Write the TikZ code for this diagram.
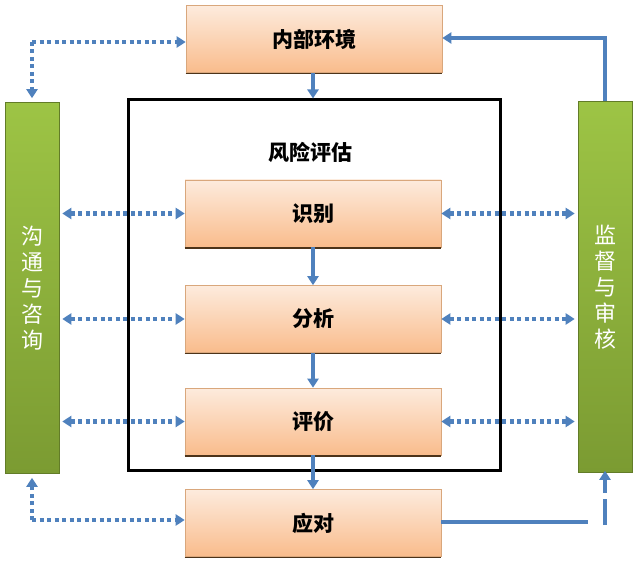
\documentclass[tikz,border=0pt]{standalone}
\usepackage{fontspec}
\newfontfamily\cjk{Noto Sans CJK SC}
\usetikzlibrary{arrows.meta}
\definecolor{arrowblue}{HTML}{4F81BD}
\definecolor{boxtop}{HTML}{FDEBDD}
\definecolor{boxbot}{HTML}{F9BC8C}
\definecolor{boxedge}{HTML}{D9A77C}
\definecolor{gtop}{HTML}{9DC445}
\definecolor{gbot}{HTML}{7B9B32}
\tikzset{
  stagebox/.style={draw=boxedge, line width=0.6pt, top color=boxtop, bottom color=boxbot,
    minimum width=256pt, minimum height=67pt, inner sep=0pt,
    font=\cjk\bfseries\fontsize{21}{21}\selectfont, text=black},
  sidebar/.style={draw=gbot!80!black, line width=0.6pt, top color=gtop, bottom color=gbot,
    minimum width=54pt, minimum height=371pt, inner sep=0pt,
    font=\cjk\fontsize{22}{26}\selectfont, text=white, align=center},
  flow/.style={draw=arrowblue, line width=4pt, -{Triangle[width=11pt,length=9pt]}},
  solidline/.style={draw=arrowblue, line width=4pt},
  dotline/.style={draw=arrowblue, line width=4.5pt, dash pattern=on 4pt off 3.5pt},
  dotarrow/.style={dotline, -{Triangle[width=11pt,length=9pt]}},
  dotboth/.style={dotline, {Triangle[width=11pt,length=9pt]}-{Triangle[width=11pt,length=9pt]}},
}
\begin{document}
\begin{tikzpicture}[x=1pt,y=-1pt]
\useasboundingbox (0,0) rectangle (640,561);
% frame
\node[draw=black, line width=3pt, minimum width=372pt, minimum height=370pt, inner sep=0pt] (frame) at (314,285) {};
\node[font=\cjk\bfseries\fontsize{21}{21}\selectfont] (title) at (310,152) {风险评估};
% boxes
\node[stagebox] (env) at (314,39) {内部环境};
\node[stagebox] (id) at (313,213.5) {识别};
\node[stagebox] (an) at (313,319) {分析};
\node[stagebox] (ev) at (313,421.5) {评价};
\node[stagebox] (re) at (313,523) {应对};
% shadows under boxes
\foreach \n in {env,id,an,ev,re}{
  \draw[line width=1.5pt, draw=black!60!brown] ([yshift=-0.8pt]\n.south west) -- ([yshift=-0.8pt]\n.south east);
}
% side bars
\node[sidebar] (comm) at (32,288) {沟\\通\\与\\咨\\询};
\node[sidebar] (mon) at (605,287) {监\\督\\与\\审\\核};
% vertical flow
\draw[flow] (env.south -| 313,0) -- (frame.north -| 313,0);
\draw[flow] (id) -- (an);
\draw[flow] (an) -- (ev);
\draw[flow] (ev) -- (re);
% left dotted connections
\coordinate (tl) at (32,42);
\coordinate (bl) at (32,520);
\draw[dotarrow] (tl) -- (env.west |- tl);
\draw[dotarrow] (tl) -- ([yshift=4pt]comm.north);
\draw[dotarrow] (bl) -- ([yshift=-4pt]comm.south);
\draw[dotarrow] (bl) -- (re.west |- bl);
\draw[dotboth] ([xshift=3pt]comm.east |- id.west) -- (id.west);
\draw[dotboth] ([xshift=3pt]comm.east |- an.west) -- (an.west);
\draw[dotboth] ([xshift=3pt]comm.east |- ev.west) -- (ev.west);
% right dotted connections
\draw[dotboth] (id.east) -- ([xshift=-3pt]mon.west |- id.east);
\draw[dotboth] (an.east) -- ([xshift=-3pt]mon.west |- an.east);
\draw[dotboth] (ev.east) -- ([xshift=-3pt]mon.west |- ev.east);
% monitor to environment
\coordinate (tr) at (605,38);
\draw[solidline] (mon.north) -- (tr);
\draw[flow] ([xshift=2pt]tr) -- (env.east |- tr);
% response to monitor
\coordinate (brh) at (588,522);
\coordinate (brv) at (605,525);
\draw[solidline] (re.east |- brh) -- (brh);
\draw[draw=arrowblue, line width=4pt, dash pattern=on 26pt off 6pt, -{Triangle[width=11pt,length=9pt]}] (brv) -- ([yshift=2pt]mon.south);
\end{tikzpicture}
\end{document}
